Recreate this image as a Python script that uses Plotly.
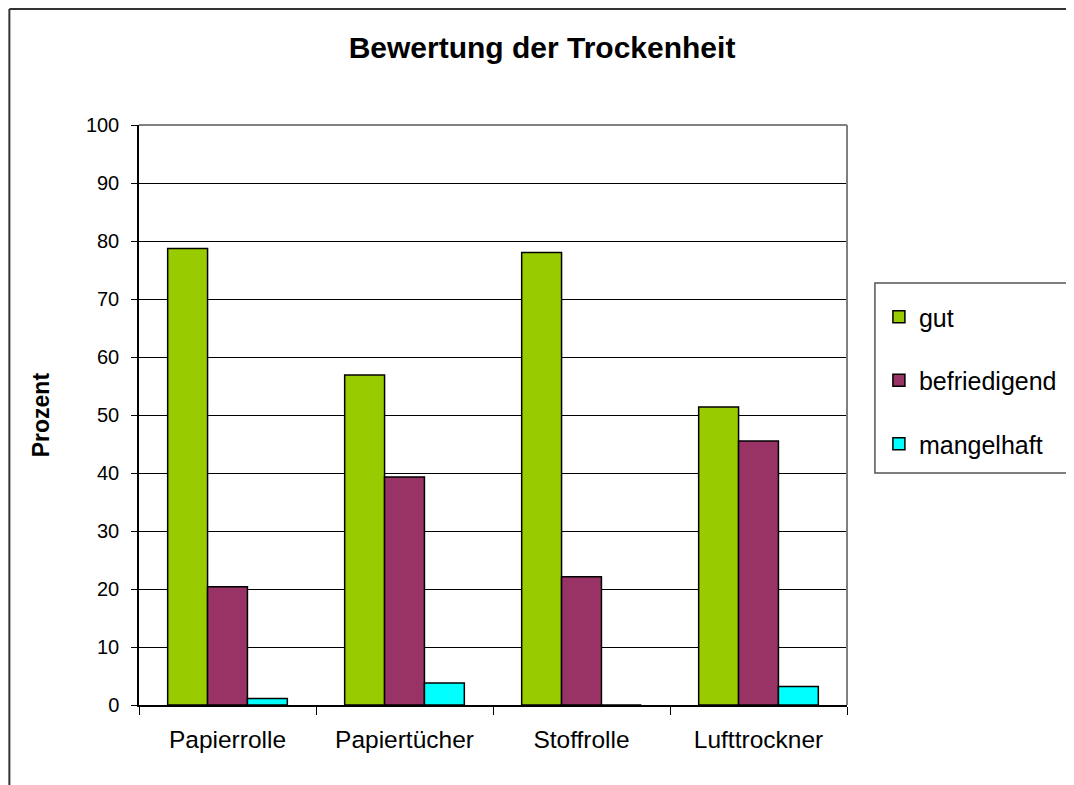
import plotly.graph_objects as go

# categories and values (Prozent)
kategorien = ["Papierrolle", "Papiertücher", "Stoffrolle", "Lufttrockner"]
gut = [78.7, 56.9, 78.0, 51.4]
befriedigend = [20.4, 39.3, 22.1, 45.5]
mangelhaft = [1.1, 3.8, 0.0, 3.2]

serien = ["gut", "befriedigend", "mangelhaft"]
farben = ["#99CC00", "#993366", "#00FFFF"]
y_ticks = list(range(0, 101, 10))

# the page body has an 8px margin, so the figure is offset by 8px
OFF = 8
W, H = 1074 - OFF, 785 - OFF
# plot area in reference pixels
L, R, T, B = 139 - OFF, 849 - OFF, 125 - OFF, 705 - OFF
pw, ph = R - L, B - T


def px(x):
    return (x - OFF - L) / pw


def py(y):
    return (B - (y - OFF)) / ph


fig = go.Figure()
for name, vals, col in zip(serien, [gut, befriedigend, mangelhaft], farben):
    fig.add_trace(go.Bar(
        x=kategorien, y=vals, name=name, legendgroup=name,
        marker=dict(color=col, line=dict(color="black", width=1.5)),
    ))

font = "Liberation Sans, Arial, sans-serif"

fig.update_layout(
    width=W, height=H,
    margin=dict(l=L, r=W - R, t=T, b=H - B),
    paper_bgcolor="white", plot_bgcolor="white",
    barmode="group", bargap=0.324, bargroupgap=0,
    font=dict(family=font, color="black", size=20),
    title=dict(text="<b>Bewertung der Trockenheit</b>", x=(542 - OFF) / W, y=1 - (47 - OFF) / H,
               xanchor="center", yanchor="middle", font=dict(size=30)),
    legend=dict(x=px(881), y=py(294), xanchor="left", yanchor="top",
                font=dict(size=25), tracegroupgap=28, traceorder="grouped",
                bgcolor="rgba(0,0,0,0)", borderwidth=0),
    showlegend=True,
)

fig.update_yaxes(range=[0, 100], tickvals=y_ticks, showgrid=True, gridcolor="black", gridwidth=1,
                 showline=True, linecolor="black", linewidth=1.5,
                 ticks="outside", ticklen=6, tickcolor="black", ticklabelstandoff=8,
                 tickfont=dict(size=20), zeroline=False)
fig.update_xaxes(showline=True, linecolor="black", linewidth=1.5,
                 ticks="outside", ticklen=8, tickcolor="black", tickson="boundaries",
                 ticklabelstandoff=12, tickfont=dict(size=24.5))

# y axis title
fig.add_annotation(text="<b>Prozent</b>", x=px(41), y=0.5, xref="paper", yref="paper",
                   textangle=-90, showarrow=False, font=dict(size=23),
                   xanchor="center", yanchor="middle")

# plot area border (grey, top and right)
fig.add_shape(type="line", xref="paper", yref="paper", x0=0, x1=1, y0=1, y1=1,
              line=dict(color="#808080", width=2))
fig.add_shape(type="line", xref="paper", yref="paper", x0=1, x1=1, y0=0, y1=1,
              line=dict(color="#808080", width=2))

# legend box
fig.add_shape(type="rect", xref="paper", yref="paper",
              x0=px(877), x1=px(1090), y0=py(473), y1=py(283),
              line=dict(color="#555555", width=1.5))

# outer chart frame (left and top edge, at the figure's border)
fig.add_shape(type="line", xref="paper", yref="paper",
              x0=px(9), x1=px(9), y0=py(800), y1=py(9),
              line=dict(color="#333333", width=2))
fig.add_shape(type="line", xref="paper", yref="paper",
              x0=px(9), x1=px(1090), y0=py(9), y1=py(9),
              line=dict(color="#333333", width=2))

fig.write_html("out.html")
